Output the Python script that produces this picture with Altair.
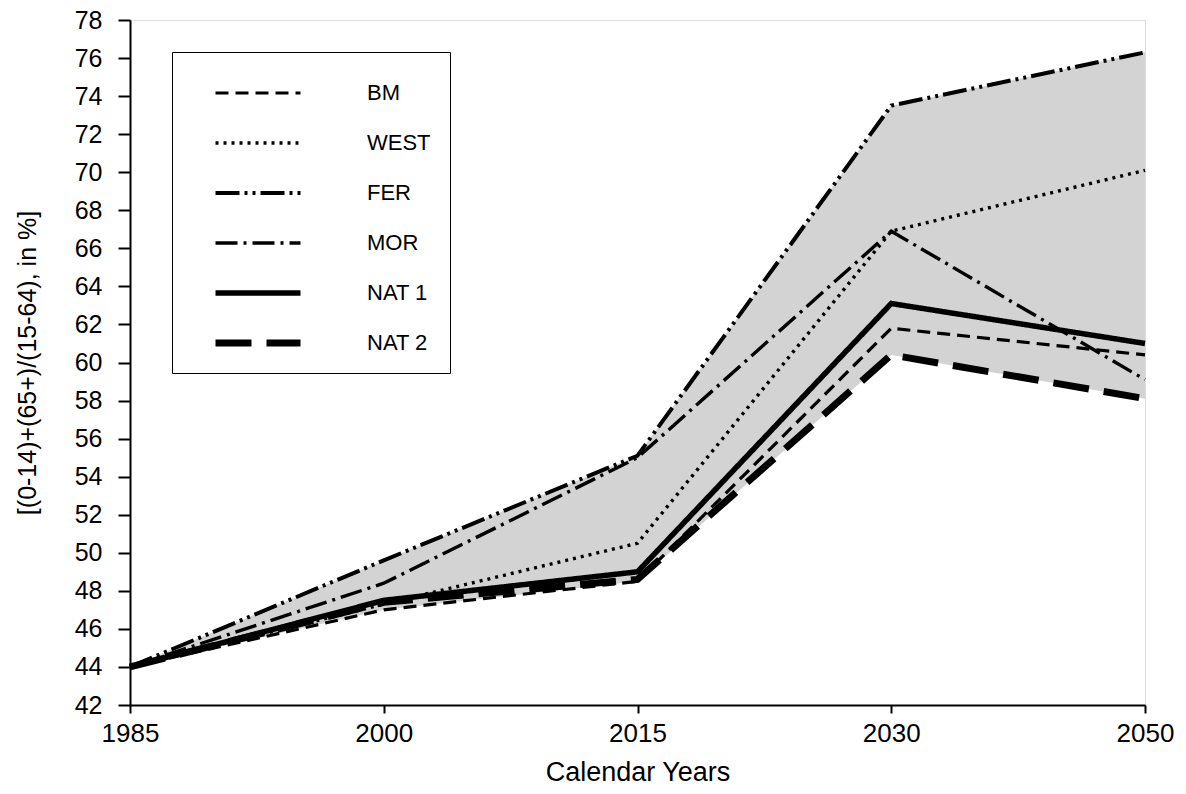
import altair as alt
import pandas as pd

years = ["1985", "2000", "2015", "2030", "2050"]
series_names = ["BM", "WEST", "FER", "MOR", "NAT 1", "NAT 2"]
BM = [44.0, 47.0, 48.5, 61.8, 60.4]
WEST = [44.0, 47.3, 50.5, 66.9, 70.1]
FER = [44.0, 49.6, 55.1, 73.5, 76.3]
MOR = [44.0, 48.4, 55.0, 66.9, 59.1]
NAT1 = [44.0, 47.5, 49.0, 63.1, 61.0]
NAT2 = [44.0, 47.4, 48.6, 60.4, 58.1]
y_ticks = list(range(42, 79, 2))

values = {"BM": BM, "WEST": WEST, "FER": FER, "MOR": MOR, "NAT 1": NAT1, "NAT 2": NAT2}
rows = []
for name in series_names:
    for yr, v in zip(years, values[name]):
        rows.append({"year": yr, "series": name, "value": v})
df = pd.DataFrame(rows)
env = df.groupby("year", as_index=False).agg(lo=("value", "min"), hi=("value", "max"))

FONT = "Liberation Sans"

x_axis = alt.Axis(title="Calendar Years", labelAngle=0, labelFontSize=26,
                  titleFontSize=27, titleFontWeight="normal", labelPadding=7,
                  titlePadding=13, tickSize=8, domainColor="black", tickColor="black",
                  labelColor="black", titleColor="black", grid=False, domainWidth=2,
                  tickWidth=2)
y_axis = alt.Axis(title="[(0-14)+(65+)/(15-64), in %]", values=y_ticks, labelFontSize=25,
                  titleFontSize=25, titleFontWeight="normal", tickSize=12, labelPadding=16,
                  titlePadding=34, domainColor="black", tickColor="black",
                  labelColor="black", titleColor="black", grid=False, domainWidth=2,
                  tickWidth=2, labelOverlap=False)

x_scale = alt.Scale(type="point", padding=0, domain=years)
y_scale = alt.Scale(domain=[42, 78], nice=False, zero=False)

area = alt.Chart(env).mark_area(color="#d3d3d3", opacity=1).encode(
    x=alt.X("year:O", scale=x_scale, axis=x_axis),
    y=alt.Y("lo:Q", scale=y_scale, axis=y_axis),
    y2="hi:Q",
)

dash_range = [[13, 7], [3, 5], [24, 5, 3, 5, 3, 5], [22, 6, 3, 6], [1, 0], [36, 15]]
width_range = [3.2, 3.4, 4.0, 3.4, 5.5, 7.0]

lines = alt.Chart(df).mark_line(color="black", strokeCap="butt", strokeJoin="miter").encode(
    x=alt.X("year:O", scale=x_scale, axis=x_axis),
    y=alt.Y("value:Q", scale=y_scale, axis=y_axis),
    strokeDash=alt.StrokeDash("series:N", scale=alt.Scale(domain=series_names, range=dash_range),
                              legend=alt.Legend(title=" ", titleFontSize=10, titlePadding=2,
                                                orient="none", legendX=42, legendY=32,
                                                symbolType="stroke", symbolSize=7225,
                                                symbolOffset=21,
                                                symbolStrokeColor="black", clipHeight=20,
                                                rowPadding=28, labelOffset=63, labelFontSize=22,
                                                labelColor="black", labelFont=FONT,
                                                padding=19, strokeColor="black", fillColor="white",
                                                labelLimit=200)),
    strokeWidth=alt.StrokeWidth("series:N", scale=alt.Scale(type="ordinal", domain=series_names,
                                                            range=width_range)),
)

chart = (area + lines).properties(
    width=1015, height=685,
    autosize=alt.AutoSizeParams(type="none"),
    padding={"left": 130, "top": 20, "right": 41, "bottom": 89},
).configure_view(stroke="black", strokeWidth=2).configure(
    font=FONT, background="white"
).configure_axis(labelFont=FONT, titleFont=FONT)

chart.save("out.html", embed_options={"renderer": "svg", "actions": False})
